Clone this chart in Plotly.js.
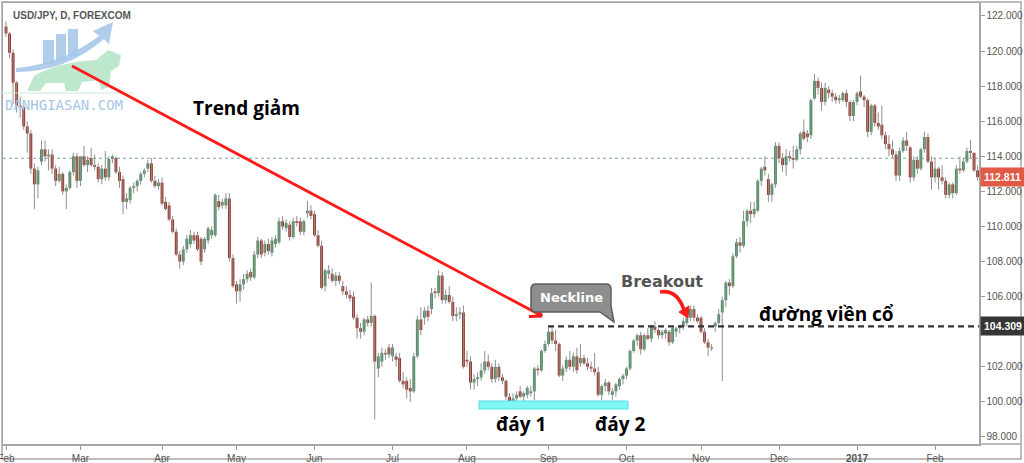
<!DOCTYPE html>
<html><head><meta charset="utf-8">
<script src="https://cdn.plot.ly/plotly-3.0.1.min.js"></script>
<style>html,body{margin:0;padding:0;background:#fff;}#chart{width:1024px;height:463px;}</style>
</head><body><div id="chart"></div>
<script>
// USD/JPY daily, Feb 2016 - Feb 2017
const opens = [
121.4,121.0,119.9,118.2,116.9,116.8,115.7,115.3,113.3,112.4,113.7,114.4,114.0,114.1,113.3,112.6,113.0,112.0,112.2,113.1,114.0,
112.6,114.0,113.5,113.9,113.5,113.4,112.7,113.3,112.8,113.85,113.9,113.1,112.7,111.4,111.5,112.2,112.3,112.6,113.0,113.3,113.6,112.6,112.3,
112.5,111.4,111.2,110.4,109.7,108.4,108.0,108.7,109.0,109.5,109.5,109.3,108.7,109.2,109.5,109.5,111.45,111.2,111.2,111.6,108.2,
106.7,106.3,106.7,107.0,107.4,107.1,108.4,109.2,108.5,109.0,108.5,109.0,109.1,110.3,109.9,110.1,109.4,110.3,110.3,109.7,110.75,110.9,
110.7,109.5,108.9,106.6,107.3,107.3,106.9,107.2,106.6,106.3,106.1,106.0,104.8,104.2,104.0,104.7,104.5,104.9,101.9,102.3,102.7,103.1,
102.6,102.6,102.5,101.2,101.2,100.8,100.6,102.6,104.7,104.8,105.2,105.3,106.3,106.2,107.2,105.8,106.1,105.7,104.9,105.0,105.1,
102.4,102.3,101.1,101.3,101.4,101.8,102.3,102.0,101.3,102.0,101.4,101.2,100.3,100.0,100.2,100.6,100.3,100.4,100.5,100.6,101.9,101.8,102.9,
103.3,104.0,103.5,103.3,101.5,101.9,102.4,102.0,102.6,102.2,102.5,102.2,102.0,101.9,101.7,100.4,100.9,101.1,100.4,100.6,100.9,101.3,
101.5,101.9,102.9,103.5,103.8,103.0,103.8,103.6,104.3,104.1,103.8,103.9,104.0,103.4,104.0,104.2,104.3,104.5,104.8,105.3,104.8,
104.8,104.0,103.4,103.1,104.3,104.5,105.1,105.8,106.8,106.6,108.3,109.1,108.9,110.3,110.9,110.7,110.9,112.6,113.4,112.7,111.8,112.4,
114.6,113.9,113.5,114.0,113.9,113.8,114.4,115.4,115.3,115.2,117.3,118.3,117.9,117.1,117.8,117.6,117.4,117.2,117.2,117.6,117.1,116.3,
117.1,117.7,117.4,117.2,115.4,116.9,115.9,115.8,115.2,114.7,114.4,114.1,112.9,114.3,114.9,114.5,112.8,113.8,113.3,114.4,115.1,113.7,
112.8,113.3,112.8,112.6,111.8,112.4,111.9,113.3,113.2,113.7,114.3,114.2,113.2];
const highs = [
121.7,121.1,120.1,118.3,117.4,117.0,116.0,115.5,113.6,113.4,114.9,114.9,114.4,114.4,113.5,113.4,113.1,112.4,113.2,114.2,114.2,
114.0,114.6,114.0,114.5,114.1,113.6,113.5,114.3,114.0,114.1,114.0,113.4,112.9,111.9,112.3,112.5,112.7,113.1,113.3,113.8,113.9,112.9,112.7,
112.8,111.7,111.4,110.6,109.9,108.6,108.9,109.5,109.8,109.7,109.7,109.4,109.4,110.0,110.0,111.9,111.8,111.6,111.9,111.9,108.4,
106.9,107.0,107.3,107.5,107.6,108.6,109.4,109.3,109.2,109.3,109.4,109.5,110.5,110.6,110.4,110.3,110.5,110.6,110.5,110.4,111.45,111.2,
110.9,109.8,109.2,107.6,107.8,107.6,107.4,107.4,106.9,106.6,106.4,106.3,105.0,104.5,104.8,104.9,106.8,105.0,102.8,103.1,103.0,103.3,
103.3,102.8,102.8,101.7,101.4,101.3,102.8,104.9,105.4,105.4,105.5,106.5,106.5,107.5,107.4,106.4,106.6,106.0,105.4,105.4,105.5,
102.9,102.6,101.6,101.7,102.2,102.9,102.7,102.2,102.4,102.2,101.6,101.3,100.5,100.5,100.6,100.9,100.6,100.9,100.9,102.0,102.1,103.0,103.5,
104.31,104.3,104.1,103.4,102.1,102.6,102.9,102.8,103.1,103.3,102.7,102.5,102.3,102.8,102.0,101.0,101.3,101.2,100.8,101.1,101.4,101.6,
102.0,103.0,103.6,103.9,104.0,103.9,104.2,104.4,104.6,104.2,104.1,104.2,104.1,104.3,104.3,104.4,104.8,105.0,105.5,105.5,105.0,
104.9,104.2,103.6,103.3,104.6,105.3,106.0,106.9,107.0,108.5,109.3,109.4,110.9,111.0,111.4,111.4,112.7,113.4,114.0,113.0,112.5,114.8,
114.8,114.2,114.4,114.3,114.6,114.6,115.4,116.1,115.5,117.3,118.7,118.5,118.2,118.2,118.0,117.8,117.6,117.5,117.7,117.8,117.2,117.2,
117.7,118.6,117.5,117.3,117.0,117.0,116.5,116.9,115.4,115.2,114.9,114.3,114.5,115.1,115.4,114.6,114.0,114.0,114.5,115.4,115.3,114.0,
113.9,113.4,113.5,112.8,112.5,112.5,113.5,114.0,113.9,114.5,114.95,114.2,113.5];
const lows = [
120.8,119.6,117.0,116.5,116.2,115.5,114.2,113.0,111.0,111.6,113.5,113.7,113.2,113.0,112.3,112.5,111.8,111.0,112.1,112.9,112.2,
112.3,113.4,113.1,113.4,113.2,112.5,112.4,112.6,112.6,113.6,113.0,112.2,110.7,111.0,111.3,111.9,112.0,112.4,112.8,113.1,112.5,112.2,112.1,
111.2,110.9,110.3,109.6,108.3,107.6,107.8,108.5,108.8,109.0,108.6,107.8,108.5,109.0,109.3,109.4,110.9,111.0,111.0,108.0,106.5,
105.6,105.7,106.4,106.8,106.9,107.0,108.2,108.2,108.3,108.4,108.3,108.8,109.0,109.8,109.7,109.2,109.3,110.0,109.5,109.5,110.5,110.4,
109.4,108.8,106.4,106.3,107.0,106.8,106.6,106.7,106.1,105.9,105.7,104.7,103.6,103.6,103.8,104.3,104.3,99.0,101.4,102.0,102.4,102.5,
102.3,102.0,101.1,100.8,100.2,100.0,100.5,102.5,103.8,104.4,104.6,105.0,105.9,106.0,105.6,105.6,105.6,104.6,104.6,104.7,101.9,
102.0,100.7,100.7,100.9,101.2,101.6,101.8,101.1,101.1,101.2,101.0,100.1,99.6,99.7,99.9,100.2,99.9,100.2,100.3,100.1,101.5,101.7,102.8,
103.2,103.3,102.9,101.4,101.2,101.7,101.8,101.7,101.6,102.0,102.1,101.8,101.7,101.5,100.3,100.1,100.6,100.4,100.1,100.3,100.7,101.0,
101.3,101.8,102.8,103.2,102.7,102.9,103.5,103.4,103.9,103.6,103.6,103.6,103.2,103.3,103.7,103.9,104.1,104.3,104.6,104.6,104.5,
103.9,103.3,102.6,102.9,104.0,104.4,101.2,105.4,106.1,106.5,108.2,108.5,108.8,110.0,110.2,110.5,110.8,112.3,112.9,111.4,111.4,112.2,
113.6,113.1,112.9,113.7,113.3,113.7,114.1,114.9,114.8,115.0,117.2,117.5,116.6,116.9,117.3,117.1,117.0,117.0,117.1,116.8,116.0,116.0,
116.9,117.3,116.8,115.1,115.2,115.7,115.5,115.0,114.4,114.0,113.9,112.6,112.6,114.2,114.3,112.5,112.6,113.0,113.2,114.2,113.6,112.1,
112.5,112.1,112.4,111.6,111.6,111.6,111.8,113.0,113.1,113.6,113.9,113.1,112.6];
const closes = [
121.0,119.9,118.2,116.9,116.8,115.7,115.3,113.3,112.4,113.2,114.4,114.0,114.1,113.3,112.6,113.0,112.0,112.2,113.1,114.0,112.6,
114.0,113.5,113.8,113.5,113.4,112.7,113.3,112.8,113.85,114.0,113.1,112.6,111.4,111.6,112.2,112.3,112.6,113.0,113.2,113.6,112.6,112.3,112.5,
111.3,111.0,110.4,109.7,108.4,108.0,108.7,109.3,109.5,109.2,108.7,108.0,109.3,109.9,109.8,111.8,111.1,111.4,111.6,108.2,106.6,
106.3,106.7,107.0,107.3,107.1,108.4,109.2,108.4,109.0,108.6,109.2,109.3,110.3,110.0,110.2,109.4,110.3,110.2,109.7,110.3,110.9,110.6,
109.5,108.9,106.5,107.5,107.5,106.9,107.2,106.9,106.3,106.1,105.9,104.8,104.2,104.0,104.7,104.5,104.9,102.3,102.6,102.8,102.8,102.7,
103.1,102.4,101.2,101.0,100.7,100.6,102.6,104.7,104.1,105.2,104.85,106.2,106.2,107.2,105.8,106.1,105.7,104.9,105.0,105.1,102.0,
102.3,101.1,101.3,101.4,101.8,102.3,102.0,101.3,102.0,101.4,101.2,100.3,100.0,100.2,100.4,100.3,100.5,100.8,100.6,101.9,101.8,102.9,103.3,
104.0,103.5,103.3,101.5,101.9,102.4,102.0,102.6,101.8,102.5,102.2,102.0,101.9,101.7,100.4,100.9,101.1,100.6,100.6,101.0,101.3,101.5,
101.9,102.9,103.5,103.8,103.0,103.8,103.6,104.3,104.1,103.8,104.0,104.1,103.4,104.2,104.2,104.3,104.6,104.8,105.3,104.8,104.6,
104.0,103.4,103.1,103.05,104.5,105.0,105.8,106.8,106.6,108.3,109.1,108.9,110.3,110.9,110.7,111.0,112.6,113.3,113.2,111.8,112.4,114.6,
113.9,113.5,114.0,113.9,113.8,114.4,115.3,115.0,115.1,117.2,118.3,117.9,117.1,117.9,117.6,117.4,117.2,117.3,117.6,117.1,116.3,117.1,
117.6,117.4,117.2,115.4,116.9,115.9,115.7,115.2,114.7,114.4,114.1,112.9,114.3,114.9,114.6,112.8,113.8,113.3,114.4,115.1,113.7,112.8,
113.3,112.8,112.6,111.8,112.4,111.9,113.3,113.2,113.7,114.3,114.2,113.2,112.81];

const monthTicks = ['2016-02-01','2016-03-01','2016-04-01','2016-05-02','2016-06-01','2016-07-01','2016-08-01','2016-09-01','2016-10-03','2016-11-01','2016-12-01','2017-01-02','2017-02-01'];
const monthLabels = ['Feb','Mar','Apr','May','Jun','Jul','Aug','Sep','Oct','Nov','Dec','<b>2017</b>','Feb'];
const neckline = 104.309;
const lastPrice = 112.811;
const refLine = 113.89;

// trading days (weekdays) starting 2016-02-01
const dates = [];
(function(){ const d = new Date(Date.UTC(2016,1,1));
  while (dates.length < opens.length) { const w = d.getUTCDay(); if (w !== 0 && w !== 6) dates.push(d.toISOString().slice(0,10)); d.setUTCDate(d.getUTCDate()+1); } })();

const wickX = [], wickY = [];
dates.forEach((dt,i)=>{ wickX.push(dt,dt,null); wickY.push(lows[i],highs[i],null); });
const bodyLen = closes.map((c,i)=> c - opens[i]);
const bodyCol = closes.map((c,i)=> c >= opens[i] ? '#4d9164' : '#9c3426');

// pixel -> paper helpers for decorations
const PX0=3, PW=976, PYB=444, PH=441;
const px = x => (x-PX0)/PW, py = y => (PYB-y)/PH;
const pt = (x,y) => px(x).toFixed(5)+','+py(y).toFixed(5);
function path(cmds){ return cmds.map(c=>{ if(c[0]==='Z') return 'Z'; let s=c[0]; for(let i=1;i<c.length;i+=2){ s+=(i>1?' ':'')+pt(c[i],c[i+1]); } return s; }).join(' '); }
function seg(x0,y0,x1,y1,color,width,dash){ return {type:'line',xref:'paper',yref:'paper',x0:px(x0),y0:py(y0),x1:px(x1),y1:py(y1),line:{color:color,width:width,dash:dash||'solid'},layer:'above'}; }
function lab(text,x,y,font,extra){ return Object.assign({text:text,xref:'paper',yref:'paper',x:px(x),y:py(y),xanchor:'center',yanchor:'middle',showarrow:false,font:font},extra||{}); }

const red='#ff1a1a';
const shapes = [
  {type:'rect',xref:'paper',yref:'paper',x0:px(2),y0:py(2),x1:px(1021),y1:py(459),line:{color:'#a6a6a6',width:1.5},layer:'below'},
  seg(979,444,1021,444,'#a6a6a6',1.5),
  {type:'line',xref:'paper',yref:'y',x0:0,x1:1,y0:refLine,y1:refLine,line:{color:'#7fa79a',width:1,dash:'dot'},layer:'below'},
  // logo
  {type:'path',xref:'paper',yref:'paper',path:path([['M',27,91],['L',34,76],['Q',58,62,96,60],['L',108,50],['L',121,55],['L',119,66],['L',111,71],['L',109,87],['L',101,90],['L',99,80],['L',82,82],['L',78,91],['L',66,91],['L',64,83],['L',46,83],['L',40,91],['Z']]),fillcolor:'#b7e5c8',line:{width:0},opacity:0.9,layer:'above'},
  {type:'rect',xref:'paper',yref:'paper',x0:px(43),y0:py(40),x1:px(54),y1:py(64),fillcolor:'#a7c8ea',line:{width:0},opacity:0.9,layer:'above'},
  {type:'rect',xref:'paper',yref:'paper',x0:px(56),y0:py(34),x1:px(66),y1:py(60),fillcolor:'#a7c8ea',line:{width:0},opacity:0.9,layer:'above'},
  {type:'rect',xref:'paper',yref:'paper',x0:px(68),y0:py(29),x1:px(78),y1:py(56),fillcolor:'#a7c8ea',line:{width:0},opacity:0.9,layer:'above'},
  {type:'path',xref:'paper',yref:'paper',path:path([['M',16,68],['Q',62,64,99,36],['L',93,31],['L',113,22],['L',109,44],['L',104,39],['Q',66,72,16,72],['Z']]),fillcolor:'#a7c8ea',line:{width:0},opacity:0.9,layer:'above'},
  seg(0,93,133,93,'#c8ead6',1),
  // trend line with open arrowhead
  seg(72,66,542,316,red,2.8), seg(542,316,535,305,red,2.8), seg(542,316,529,316.5,red,2.8),
  // neckline
  {type:'line',xref:'paper',yref:'y',x0:px(548),x1:1,y0:neckline,y1:neckline,line:{color:'#333333',width:2.2,dash:'6px,4px'},layer:'above'},
  // neckline callout
  {type:'path',xref:'paper',yref:'paper',path:path([['M',536,284],['L',606,284],['Q',611,284,611,289],['L',611,306],['L',614,322],['L',600,312],['L',536,312],['Q',531,312,531,307],['L',531,289],['Q',531,284,536,284],['Z']]),fillcolor:'#8e8e8e',line:{color:'#5e5e5e',width:1.5},layer:'above'},
  // bottoms band
  {type:'rect',xref:'paper',yref:'paper',x0:px(479),y0:py(401),x1:px(628),y1:py(409),fillcolor:'#80f6f8',line:{color:'#55dde6',width:1},layer:'above'},
  // breakout curved arrow
  {type:'path',xref:'paper',yref:'paper',path:path([['M',660,292],['Q',677,289,684,310]]),line:{color:red,width:3.5},layer:'above'},
  {type:'path',xref:'paper',yref:'paper',path:path([['M',688,318],['L',679,312],['L',689,306],['Z']]),fillcolor:red,line:{color:red,width:1},layer:'above'}
];

const vn = {family:'Open Sans, Noto Sans, sans-serif', size:19, color:'#000', weight:'bold'};
const annotations = [
  lab('USD/JPY, D, FOREXCOM',11,16,{family:'Liberation Sans, Arial',size:10,color:'#555',weight:'bold'},{xanchor:'left'}),
  lab('DANHGIASAN.COM',64,105,{family:'DejaVu Sans Mono, Liberation Mono, monospace',size:14,color:'#a6c6e6'}),
  lab('Trend giảm',246,108,vn),
  lab('Neckline',571,297,{family:'DejaVu Sans, sans-serif',size:13,color:'#ffffff',weight:'bold'}),
  lab('Breakout',662,281,{family:'DejaVu Sans, sans-serif',size:16,color:'#555555',weight:'bold'}),
  lab('đường viền cổ',826,314,vn),
  lab('đáy 1',521,424,vn),
  lab('đáy 2',620,424,vn),
  {text:'104.309',xref:'paper',yref:'y',x:1,y:neckline,xanchor:'left',yanchor:'middle',xshift:1,showarrow:false,bgcolor:'#363636',borderpad:3,font:{family:'Liberation Sans, Arial',size:10.5,color:'#fff',weight:'bold'}},
  {text:'112.811',xref:'paper',yref:'y',x:1,y:lastPrice,xanchor:'left',yanchor:'middle',xshift:1,showarrow:false,bgcolor:'#e25a46',borderpad:3,font:{family:'Liberation Sans, Arial',size:10.5,color:'#fff',weight:'bold'}}
];

const traces = [
  {type:'scatter',mode:'lines',x:wickX,y:wickY,line:{color:'#8f8f8f',width:1},hoverinfo:'skip',connectgaps:false},
  {type:'bar',x:dates,base:opens,y:bodyLen,width:0.82,marker:{color:bodyCol,line:{width:0}},hoverinfo:'skip'}
];

const axisFont = {family:'Liberation Sans, Arial, sans-serif',size:10,color:'#555'};
const layout = {
  width:1024,height:463,margin:{l:3,r:45,t:3,b:19},
  paper_bgcolor:'#ffffff',plot_bgcolor:'#ffffff',showlegend:false,hovermode:false,
  xaxis:{type:'category',range:[-0.85,274.4],tickmode:'array',tickvals:monthTicks,ticktext:monthLabels,tickangle:0,
    ticks:'outside',ticklen:4,tickcolor:'#9a9a9a',tickfont:axisFont,showgrid:false,showline:true,linecolor:'#a6a6a6',linewidth:1.5,mirror:true,zeroline:false,fixedrange:true},
  yaxis:{side:'right',range:[97.6,122.74],tick0:98,dtick:2,tickformat:'.3f',ticks:'outside',ticklen:4,tickcolor:'#9a9a9a',tickfont:axisFont,
    showgrid:false,showline:true,linecolor:'#a6a6a6',linewidth:1.5,mirror:true,zeroline:false,fixedrange:true},
  shapes:shapes,annotations:annotations
};
Plotly.newPlot('chart',traces,layout,{staticPlot:true,displayModeBar:false});
</script></body></html>
